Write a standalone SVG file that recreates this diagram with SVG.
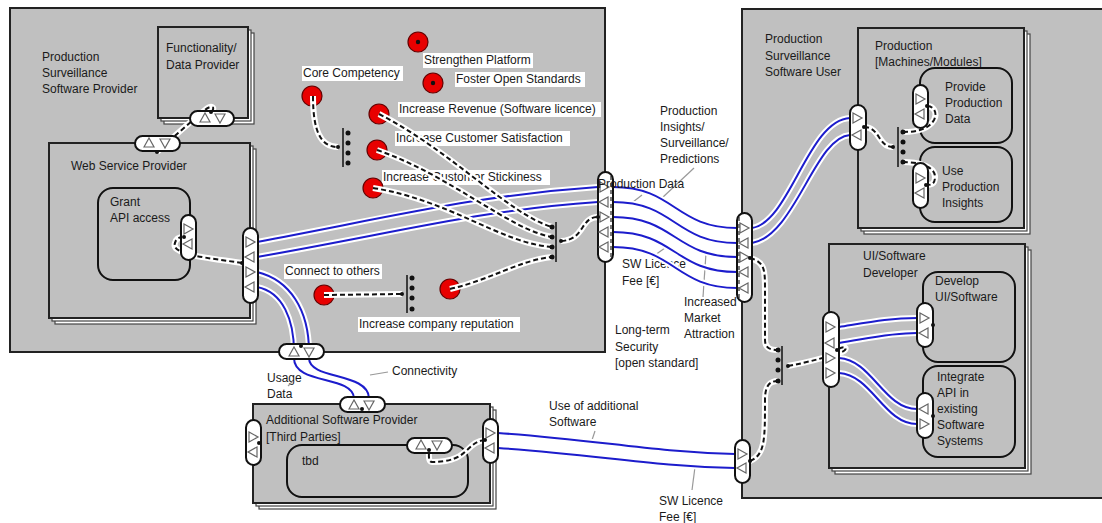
<svg xmlns="http://www.w3.org/2000/svg" xmlns:xlink="http://www.w3.org/1999/xlink" width="1102" height="523" viewBox="0 0 1102 523">
<defs>
<style>
text{font-family:"Liberation Sans",Arial,sans-serif;font-size:12px;fill:#1a1a1a}
.big{fill:#c0c0c0;stroke:#222;stroke-width:2}
.box{fill:#c0c0c0;stroke:#222;stroke-width:2}
.sh{fill:#fff;stroke:#444;stroke-width:1.2}
.node{fill:#c0c0c0;stroke:#111;stroke-width:2}
.pill{fill:#fff;stroke:#111;stroke-width:2}
.tri{fill:#fff;stroke:#666;stroke-width:1.2}
.halo{fill:none;stroke:#fff;stroke-width:6}
.blue{fill:none;stroke:#1c1ccc;stroke-width:2}
.dash{fill:none;stroke:#111;stroke-width:2;stroke-dasharray:5,3}
.bar{stroke:#111;stroke-width:1.5}
.dot{fill:#111}
.goal{fill:#e80000;stroke:#600;stroke-width:1.2}
.lbg{fill:#fff}
.lead{stroke:#999;stroke-width:1.2}
</style>
<path id="tR" class="tri" d="M-4,-5L5,0L-4,5Z"/>
<path id="tL" class="tri" d="M4,-5L-5,0L4,5Z"/>
<path id="tU" class="tri" d="M-5,4L0,-5L5,4Z"/>
<path id="tD" class="tri" d="M-5,-4L0,5L5,-4Z"/>
<circle id="gd" class="goal" r="10"/>
</defs>
<rect width="1102" height="523" fill="#fff"/>

<g id="provider">
<rect class="big" x="10" y="8" width="595" height="344"/>
<text x="42" y="61">Production</text>
<text x="42" y="77">Surveillance</text>
<text x="42" y="93">Software Provider</text>
</g>

<g id="functionality">
<rect class="sh" x="164" y="33" width="90" height="91"/>
<rect class="sh" x="161" y="30" width="90" height="91"/>
<rect class="box" x="158" y="27" width="90" height="91"/>
<text x="166" y="52">Functionality/</text>
<text x="166" y="69">Data Provider</text>
</g>

<g id="webservice">
<rect class="sh" x="55" y="149" width="201" height="175"/>
<rect class="sh" x="52" y="146" width="201" height="175"/>
<rect class="box" x="49" y="143" width="201" height="175"/>
<text x="71" y="170">Web Service Provider</text>
</g>

<g id="grant">
<rect class="node" x="98" y="188" width="92" height="92" rx="15"/>
<text x="110" y="206">Grant</text>
<text x="110" y="222">API access</text>
</g>

<g id="user">
<rect class="big" x="742" y="9" width="370" height="489"/>
<text x="765" y="43">Production</text>
<text x="765" y="60">Surveillance</text>
<text x="765" y="76">Software User</text>
</g>

<g id="production">
<rect class="sh" x="864" y="34" width="166" height="200"/>
<rect class="sh" x="861" y="31" width="166" height="200"/>
<rect class="box" x="858" y="28" width="166" height="200"/>
<text x="875" y="50">Production</text>
<text x="875" y="66">[Machines/Modules]</text>
</g>

<g id="provide">
<rect class="node" x="920" y="68" width="92" height="75" rx="15"/>
<text x="945" y="91">Provide</text>
<text x="945" y="107">Production</text>
<text x="945" y="123">Data</text>
</g>

<g id="use">
<rect class="node" x="920" y="147" width="92" height="75" rx="15"/>
<text x="942" y="175">Use</text>
<text x="942" y="191">Production</text>
<text x="942" y="207">Insights</text>
</g>

<g id="uidev">
<rect class="sh" x="835" y="250" width="196" height="224"/>
<rect class="sh" x="832" y="247" width="196" height="224"/>
<rect class="box" x="829" y="244" width="196" height="224"/>
<text x="863" y="260">UI/Software</text>
<text x="863" y="277">Developer</text>
</g>

<g id="develop">
<rect class="node" x="923" y="272" width="92" height="90" rx="15"/>
<text x="935" y="285">Develop</text>
<text x="935" y="301">UI/Software</text>
</g>

<g id="integrate">
<rect class="node" x="923" y="366" width="92" height="91" rx="15"/>
<text x="937" y="381">Integrate</text>
<text x="937" y="397">API in</text>
<text x="937" y="413">existing</text>
<text x="937" y="429">Software</text>
<text x="937" y="445">Systems</text>
</g>

<g id="additional">
<rect class="sh" x="259" y="410" width="237" height="99"/>
<rect class="sh" x="256" y="407" width="237" height="99"/>
<rect class="box" x="253" y="404" width="237" height="99"/>
<text x="266" y="424">Additional Software Provider</text>
<text x="266" y="441">[Third Parties]</text>
</g>

<g id="tbd">
<rect class="node" x="287" y="445" width="181" height="52" rx="15"/>
<text x="302" y="465">tbd</text>
</g>

<g id="goals">
<rect class="lbg" x="423" y="53" width="110" height="15"/>
<text x="424" y="64">Strengthen Platform</text>
<rect class="lbg" x="455" y="72" width="130" height="15"/>
<text x="456" y="83">Foster Open Standards</text>
<rect class="lbg" x="302" y="66" width="101" height="15"/>
<text x="303" y="77">Core Competency</text>
<rect class="lbg" x="398" y="102" width="203" height="15"/>
<text x="399" y="113">Increase Revenue (Software licence)</text>
<rect class="lbg" x="395" y="131" width="175" height="15"/>
<text x="396" y="142">Increase Customer Satisfaction</text>
<rect class="lbg" x="382" y="170" width="168" height="15"/>
<text x="383" y="181">Increase Customer Stickiness</text>
<rect class="lbg" x="284" y="264" width="98" height="15"/>
<text x="285" y="275">Connect to others</text>
<rect class="lbg" x="358" y="317" width="162" height="15"/>
<text x="359" y="328">Increase company reputation</text>
<use href="#gd" x="418" y="42"/><circle class="dot" cx="418" cy="42" r="2.2"/>
<use href="#gd" x="433" y="83"/><circle class="dot" cx="433" cy="83" r="2.2"/>
<use href="#gd" x="312" y="96"/>
<use href="#gd" x="379" y="114"/>
<use href="#gd" x="377" y="150"/>
<use href="#gd" x="373" y="188"/>
<use href="#gd" x="324" y="295"/>
<use href="#gd" x="450" y="289"/>
</g>

<g id="labels">
<text x="660" y="115">Production</text>
<text x="660" y="131">Insights/</text>
<text x="660" y="147">Surveillance/</text>
<text x="660" y="163">Predictions</text>
<line class="lead" x1="694" y1="168" x2="662" y2="198"/>
<line class="lead" x1="633" y1="202" x2="642" y2="195"/>
<text x="622" y="268">SW Licence</text>
<text x="622" y="285">Fee [€]</text>
<line class="lead" x1="655" y1="255" x2="665" y2="248"/>
<text x="684" y="306">Increased</text>
<text x="684" y="322">Market</text>
<text x="684" y="338">Attraction</text>
<line class="lead" x1="706" y1="253" x2="703" y2="297"/>
<text x="615" y="334">Long-term</text>
<text x="615" y="351">Security</text>
<text x="615" y="367">[open standard]</text>
<text x="392" y="375">Connectivity</text>
<line class="lead" x1="370" y1="375" x2="388" y2="372"/>
<text x="267" y="382">Usage</text>
<text x="267" y="398">Data</text>
<line class="lead" x1="288" y1="386" x2="293" y2="381"/>
<text x="549" y="410">Use of additional</text>
<text x="549" y="426">Software</text>
<line class="lead" x1="592" y1="440" x2="595" y2="431"/>
<text x="659" y="505">SW Licence</text>
<text x="659" y="521">Fee [€]</text>
<line class="lead" x1="695" y1="467" x2="692" y2="490"/>
</g>

<g id="connectors">
<g id="blue-halo" class="halo">
<path d="M257,242 C400,215 480,195 598,187"/>
<path d="M257,257 C400,232 480,210 598,202"/>
<path d="M257,272 C290,280 309,310 309,352"/>
<path d="M257,287 C283,292 294,320 294,352"/>
<path d="M294,358 C294,385 352,375 354,398"/>
<path d="M309,358 C309,380 368,372 369,398"/>
<path d="M613,187 C675,187 675,228 737,228"/>
<path d="M613,202 C675,202 675,243 737,243"/>
<path d="M613,217 C675,217 675,257 737,257"/>
<path d="M613,232 C675,232 675,272 737,272"/>
<path d="M613,247 C675,247 675,288 737,288"/>
<path d="M752,228 C790,222 808,120 850,118"/>
<path d="M752,243 C795,236 815,137 850,135"/>
<path d="M498,433 C600,440 650,452 735,454"/>
<path d="M498,448 C600,455 650,466 735,468"/>
<path d="M839,327 C870,322 890,318 917,318"/>
<path d="M839,343 C870,338 890,333 917,333"/>
<path d="M839,358 C872,360 884,409 917,409"/>
<path d="M839,373 C872,375 884,424 917,424"/>
</g>
<g id="blue" class="blue">
<path d="M257,242 C400,215 480,195 598,187"/>
<path d="M257,257 C400,232 480,210 598,202"/>
<path d="M257,272 C290,280 309,310 309,352"/>
<path d="M257,287 C283,292 294,320 294,352"/>
<path d="M294,358 C294,385 352,375 354,398"/>
<path d="M309,358 C309,380 368,372 369,398"/>
<path d="M613,187 C675,187 675,228 737,228"/>
<path d="M613,202 C675,202 675,243 737,243"/>
<path d="M613,217 C675,217 675,257 737,257"/>
<path d="M613,232 C675,232 675,272 737,272"/>
<path d="M613,247 C675,247 675,288 737,288"/>
<path d="M752,228 C790,222 808,120 850,118"/>
<path d="M752,243 C795,236 815,137 850,135"/>
<path d="M498,433 C600,440 650,452 735,454"/>
<path d="M498,448 C600,455 650,466 735,468"/>
<path d="M839,327 C870,322 890,318 917,318"/>
<path d="M839,343 C870,338 890,333 917,333"/>
<path d="M839,358 C872,360 884,409 917,409"/>
<path d="M839,373 C872,375 884,424 917,424"/>
</g>
<g id="dash-halo" class="halo">
<path d="M157,152 C170,140 195,118 205,110 C212,104 216,108 211,112"/>
<path d="M242,263 C210,258 170,255 175,243 C176,238 180,237 184,237"/>
<path d="M313,96 C313,130 320,147 338,147"/>
<path d="M379,114 C450,150 510,215 552,227"/>
<path d="M377,150 C450,175 510,230 552,237"/>
<path d="M373,188 C450,200 500,243 552,247"/>
<path d="M450,289 C490,280 520,260 552,257"/>
<path d="M324,295 L402,294"/>
<path d="M561,241 C585,240 580,217 598,217"/>
<path d="M750,258 C765,262 765,270 765,290 L765,340 C765,348 770,350 778,350"/>
<path d="M750,461 C765,455 765,440 765,400 C765,385 770,381 778,381"/>
<path d="M788,366 C810,362 830,356 842,352 C849,349 845,344 837,350"/>
<path d="M864,127 C880,127 878,147 893,147"/>
<path d="M903,132 C915,132 928,130 934,120 C938,112 933,106 927,106"/>
<path d="M903,162 C915,162 935,165 935,177 C935,185 930,185 926,185"/>
<path d="M485,440 C465,442 470,462 432,462 C428,462 429,455 429,450"/>
</g>
<g id="dash" class="dash">
<path d="M157,152 C170,140 195,118 205,110 C212,104 216,108 211,112"/>
<path d="M242,263 C210,258 170,255 175,243 C176,238 180,237 184,237"/>
<path d="M313,96 C313,130 320,147 338,147"/>
<path d="M379,114 C450,150 510,215 552,227"/>
<path d="M377,150 C450,175 510,230 552,237"/>
<path d="M373,188 C450,200 500,243 552,247"/>
<path d="M450,289 C490,280 520,260 552,257"/>
<path d="M324,295 L402,294"/>
<path d="M561,241 C585,240 580,217 598,217"/>
<path d="M750,258 C765,262 765,270 765,290 L765,340 C765,348 770,350 778,350"/>
<path d="M750,461 C765,455 765,440 765,400 C765,385 770,381 778,381"/>
<path d="M788,366 C810,362 830,356 842,352 C849,349 845,344 837,350"/>
<path d="M864,127 C880,127 878,147 893,147"/>
<path d="M903,132 C915,132 928,130 934,120 C938,112 933,106 927,106"/>
<path d="M903,162 C915,162 935,165 935,177 C935,185 930,185 926,185"/>
<path d="M485,440 C465,442 470,462 432,462 C428,462 429,455 429,450"/>
</g>
<g id="bars">
<line class="bar" x1="343" y1="128" x2="343" y2="167"/>
<line class="bar" x1="556" y1="222" x2="556" y2="262"/>
<line class="bar" x1="407" y1="275" x2="407" y2="313"/>
<line class="bar" x1="782" y1="346" x2="782" y2="385"/>
<line class="bar" x1="898" y1="127" x2="898" y2="167"/>
</g>
<g id="dots" class="dot">
<circle cx="348" cy="133" r="2.5"/><circle cx="348" cy="143" r="2.5"/><circle cx="348" cy="153" r="2.5"/><circle cx="348" cy="163" r="2.5"/><circle cx="338" cy="147" r="2"/>
<circle cx="552" cy="227" r="2.5"/><circle cx="552" cy="237" r="2.5"/><circle cx="552" cy="247" r="2.5"/><circle cx="552" cy="257" r="2.5"/><circle cx="561" cy="241" r="2"/>
<circle cx="412" cy="278" r="2.5"/><circle cx="412" cy="288" r="2.5"/><circle cx="412" cy="298" r="2.5"/><circle cx="412" cy="309" r="2.5"/><circle cx="402" cy="294" r="2"/>
<circle cx="778" cy="350" r="2.5"/><circle cx="778" cy="360" r="2.5"/><circle cx="778" cy="370" r="2.5"/><circle cx="778" cy="381" r="2.5"/><circle cx="788" cy="366" r="2"/>
<circle cx="903" cy="132" r="2.5"/><circle cx="903" cy="142" r="2.5"/><circle cx="903" cy="152" r="2.5"/><circle cx="903" cy="162" r="2.5"/><circle cx="893" cy="147" r="2"/>
</g>
</g>

<g id="ports">
<g id="p-func"><rect class="pill" x="190" y="111" width="44" height="15" rx="7.5"/><use href="#tU" x="205" y="118"/><use href="#tD" x="220" y="118"/></g>
<g id="p-ws-top"><rect class="pill" x="135" y="136" width="45" height="15" rx="7.5"/><use href="#tU" x="149" y="143"/><use href="#tD" x="165" y="143"/></g>
<g id="p-grant"><rect class="pill" x="181" y="215" width="15" height="45" rx="7.5"/><use href="#tR" x="188" y="229"/><use href="#tL" x="188" y="244"/></g>
<g id="p-ws-right"><rect class="pill" x="243" y="228" width="15" height="75" rx="7.5"/><use href="#tR" x="250" y="242"/><use href="#tL" x="250" y="257"/><use href="#tR" x="250" y="272"/><use href="#tL" x="250" y="287"/></g>
<g id="p-prov-bottom"><rect class="pill" x="279" y="344" width="45" height="15" rx="7.5"/><use href="#tU" x="294" y="352"/><use href="#tD" x="309" y="352"/></g>
<g id="p-prov-right"><rect class="pill" x="598" y="172" width="15" height="90" rx="7.5"/><line x1="611" y1="176" x2="611" y2="258" stroke="#222" stroke-width="1.2" stroke-dasharray="4,3"/><use href="#tR" x="604" y="187"/><use href="#tL" x="604" y="202"/><use href="#tR" x="604" y="217"/><use href="#tL" x="604" y="232"/><use href="#tL" x="604" y="247"/></g>
<g id="p-add-top"><rect class="pill" x="340" y="397" width="45" height="15" rx="7.5"/><use href="#tU" x="354" y="405"/><use href="#tD" x="369" y="405"/></g>
<g id="p-add-left"><rect class="pill" x="246" y="420" width="15" height="45" rx="7.5"/><use href="#tR" x="253" y="437"/><use href="#tL" x="253" y="452"/></g>
<g id="p-add-right"><rect class="pill" x="483" y="419" width="15" height="44" rx="7.5"/><use href="#tR" x="490" y="433"/><use href="#tL" x="490" y="448"/></g>
<g id="p-tbd"><rect class="pill" x="407" y="438" width="45" height="15" rx="7.5"/><use href="#tU" x="421" y="445"/><use href="#tD" x="437" y="445"/></g>
<g id="p-user-left"><rect class="pill" x="737" y="213" width="15" height="89" rx="7.5"/><line x1="739" y1="217" x2="739" y2="298" stroke="#222" stroke-width="1.2" stroke-dasharray="4,3"/><use href="#tR" x="744" y="228"/><use href="#tL" x="744" y="243"/><use href="#tR" x="744" y="257"/><use href="#tL" x="744" y="272"/><use href="#tL" x="744" y="288"/></g>
<g id="p-user-bottom"><rect class="pill" x="735" y="440" width="15" height="43" rx="7.5"/><use href="#tR" x="742" y="454"/><use href="#tL" x="742" y="468"/></g>
<g id="p-production"><rect class="pill" x="850" y="105" width="16" height="45" rx="8"/><use href="#tR" x="857" y="118"/><use href="#tL" x="857" y="135"/></g>
<g id="p-provide"><rect class="pill" x="913" y="85" width="15" height="43" rx="7.5"/><use href="#tR" x="920" y="99"/><use href="#tL" x="920" y="114"/></g>
<g id="p-use"><rect class="pill" x="913" y="163" width="15" height="45" rx="7.5"/><use href="#tR" x="920" y="178"/><use href="#tL" x="920" y="193"/></g>
<g id="p-uidev"><rect class="pill" x="823" y="312" width="16" height="75" rx="8"/><use href="#tR" x="830" y="327"/><use href="#tL" x="830" y="343"/><use href="#tR" x="830" y="358"/><use href="#tR" x="830" y="373"/></g>
<g id="p-develop"><rect class="pill" x="917" y="303" width="16" height="44" rx="8"/><use href="#tR" x="924" y="318"/><use href="#tL" x="924" y="333"/></g>
<g id="p-integrate"><rect class="pill" x="917" y="393" width="16" height="45" rx="8"/><use href="#tL" x="924" y="409"/><use href="#tR" x="924" y="424"/></g>
<g id="port-dots" class="dot">
<circle cx="211" cy="112" r="2"/><circle cx="157" cy="152" r="2"/><circle cx="184" cy="237" r="2"/><circle cx="242" cy="263" r="2"/>
<circle cx="598" cy="217" r="2"/><circle cx="750" cy="258" r="2"/><circle cx="750" cy="461" r="2"/><circle cx="864" cy="127" r="2"/>
<circle cx="927" cy="106" r="2"/><circle cx="926" cy="185" r="2"/><circle cx="837" cy="350" r="2"/><circle cx="933" cy="325" r="2"/>
<circle cx="933" cy="416" r="2"/><circle cx="485" cy="440" r="2"/><circle cx="429" cy="450" r="2"/><circle cx="362" cy="409" r="2"/>
<circle cx="259" cy="443" r="2"/><circle cx="301" cy="346" r="2"/>
</g>
</g>

<g id="overlay-text">
<text x="598" y="188">Production Data</text>
</g>
</svg>
